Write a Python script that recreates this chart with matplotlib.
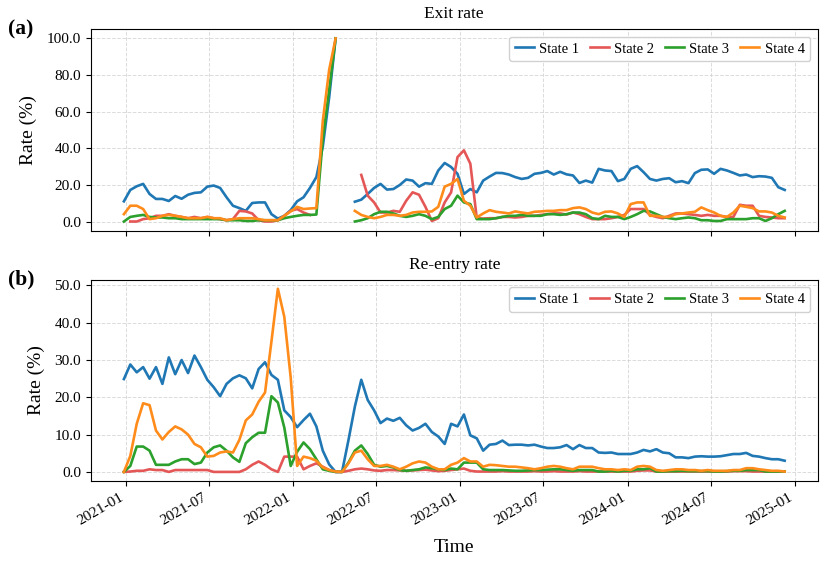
import numpy as np
import pandas as pd
import matplotlib
matplotlib.use("Agg")
import matplotlib.pyplot as plt
import matplotlib.dates as mdates
from matplotlib.ticker import FormatStrFormatter

nan = np.nan

# biweekly sample dates
dates = pd.date_range("2020-12-28", periods=104, freq="14D")

states = ["State 1", "State 2", "State 3", "State 4"]
colors = ["#1f77b4", "#e45756", "#2ca02c", "#ff8c1a"]

# exit rate (%)
exit_s1 = [11.2, 17.4, 19.4, 20.7, 15.2, 12.5, 12.5, 11.4, 14.1, 12.6, 14.8, 15.8, 16.1, 19.2, 19.8, 18.5,
           13.4, 8.8, 7.5, 6.0, 10.3, 10.6, 10.6, 4.2, 1.8, 3.3, 6.4, 11.2, 13.4, 18.5, 24.4, 41, 68, 100,
           nan, nan,
           11.0, 12.1, 15.2, 18.5, 20.7, 17.6, 17.9, 20.1, 23.1, 22.5, 19.2, 21.1, 20.7, 28.0, 32.1, 29.9,
           26.2, 15.2, 17.9, 16.1, 22.5, 24.7, 26.7, 26.6, 25.8, 24.4, 23.4, 24.0, 26.2, 26.7, 27.7, 25.8,
           27.3, 25.9, 25.3, 21.2, 22.5, 21.4, 28.9, 28.0, 27.7, 22.2, 23.4, 28.9, 30.4, 27.1, 23.4, 22.5,
           23.4, 23.8, 21.6, 22.2, 21.1, 26.6, 28.4, 28.6, 26.2, 28.9, 28.0, 26.7, 25.3, 25.8, 24.4, 24.9,
           24.7, 24.0, 18.9, 17.4]
exit_s2 = [nan, 0.2, 0.2, 1.5, 2.0, 3.3, 3.3, 4.2, 3.3, 2.7, 2.0, 2.7, 2.0, 2.7, 2.0, 1.5, 0.9, 1.5, 6.0,
           5.7, 4.6, 0.9, 0.2, 0.2, 0.9, 3.3, 6.0, 7.0, 5.1, 3.8,
           nan, nan, nan, nan, nan, nan, nan,
           25.6, 14.3, 10.6, 5.1, 5.1, 6.0, 5.5, 11.5, 16.1, 14.8, 8.2, 0.5, 2.0, 10.6, 16.1, 35.3, 39.0,
           31.7, 2.0, 1.8, 2.0, 2.0, 2.7, 2.7, 2.4, 2.7, 3.3, 3.3, 3.8, 4.2, 4.6, 4.6, 4.0, 5.1, 4.2, 2.7,
           1.5, 1.5, 1.5, 2.0, 2.7, 3.8, 7.0, 7.0, 7.0, 3.8, 2.7, 2.0, 3.3, 4.6, 4.6, 4.2, 3.8, 3.3, 3.8,
           3.3, 3.3, 2.7, 2.7, 9.3, 8.8, 8.8, 3.3, 2.7, 2.4, 2.0, 2.0]
exit_s3 = [0.2, 2.7, 3.3, 3.8, 2.7, 2.4, 2.4, 2.0, 2.0, 1.5, 1.5, 1.5, 1.5, 1.5, 1.5, 1.5, 0.9, 0.9, 0.9,
           0.5, 0.5, 0.9, 0.9, 0.9, 0.9, 2.0, 2.7, 3.3, 3.8, 3.8, 4.0, 45, 72, 100,
           nan, nan,
           0.2, 0.9, 2.0, 4.2, 5.5, 5.5, 4.6, 3.3, 2.7, 3.3, 4.2, 3.3, 1.5, 2.7, 7.0, 8.8, 14.3, 10.6, 9.7,
           1.5, 1.5, 1.5, 2.0, 2.7, 3.3, 3.3, 3.8, 3.3, 3.3, 3.3, 4.2, 4.2, 3.8, 4.2, 5.1, 5.1, 4.2, 2.0,
           1.5, 3.3, 2.7, 2.7, 1.5, 2.7, 4.2, 6.0, 5.7, 4.2, 2.7, 2.0, 1.5, 2.0, 2.4, 2.0, 0.9, 0.9, 0.5,
           0.5, 1.5, 1.5, 1.5, 1.5, 2.0, 2.0, 0.5, 2.0, 4.2, 6.0]
exit_s4 = [4.2, 8.8, 8.8, 7.0, 1.5, 2.0, 3.3, 3.8, 3.3, 2.7, 2.0, 2.0, 2.0, 2.7, 2.0, 2.0, 0.9, 1.5, 2.0,
           2.0, 2.0, 1.5, 0.9, 0.9, 0.9, 3.3, 5.7, 8.2, 7.0, 7.3, 7.5, 55, 83, 100,
           nan, nan,
           6.0, 3.8, 2.7, 2.0, 2.7, 3.8, 3.8, 3.3, 3.8, 5.1, 5.5, 5.5, 5.7, 8.2, 19.2, 20.7, 23.4, 11.5,
           8.8, 2.4, 4.6, 6.4, 5.5, 5.1, 4.6, 5.7, 5.1, 4.6, 5.5, 5.7, 6.0, 6.0, 6.4, 6.4, 7.5, 7.9, 7.0,
           5.1, 4.2, 5.5, 5.7, 4.6, 2.7, 9.7, 10.6, 10.6, 3.3, 3.3, 2.7, 2.7, 4.2, 4.6, 5.1, 5.5, 7.9, 6.4,
           5.1, 3.3, 2.7, 5.1, 8.8, 8.2, 7.5, 5.7, 5.7, 5.1, 3.3, 2.4]

# re-entry rate (%)
reentry_s1 = [24.9, 28.8, 26.7, 28.1, 25.0, 28.1, 23.6, 30.7, 26.2, 30.0, 26.5, 31.2, 28.1, 24.7, 22.7,
              20.3, 23.6, 25.1, 25.9, 25.1, 22.4, 27.6, 29.4, 26.0, 24.7, 16.5, 14.7, 12.0, 13.9, 15.6,
              12.2, 5.7, 2.0, 0.0, 0.0, 8.5, 17.5, 24.7, 19.3, 16.5, 13.1, 14.3, 13.7, 14.5, 12.5, 11.1,
              11.8, 12.9, 10.7, 9.5, 7.5, 12.9, 12.2, 15.4, 9.8, 9.0, 5.7, 7.3, 7.5, 8.4, 7.2, 7.3, 7.3,
              7.1, 7.3, 6.8, 6.4, 6.4, 6.6, 7.2, 6.1, 7.2, 6.4, 6.4, 5.2, 5.1, 5.2, 4.8, 4.8, 4.8, 5.2,
              5.9, 5.5, 6.1, 5.2, 5.0, 3.9, 3.9, 3.7, 4.1, 4.2, 4.1, 4.1, 4.2, 4.5, 4.8, 4.8, 5.1, 4.3,
              4.1, 3.7, 3.4, 3.4, 3.0]
reentry_s2 = [0.0, 0.1, 0.3, 0.3, 0.7, 0.5, 0.5, 0.0, 0.5, 0.5, 0.5, 0.5, 0.5, 0.5, 0.0, 0.0, 0.0, 0.0,
              0.0, 0.7, 1.9, 2.8, 1.9, 0.7, 0.0, 4.1, 4.1, 4.1, 0.7, 1.6, 2.3, 1.4, 0.5, 0.0, 0.0, 0.3,
              0.7, 0.9, 0.7, 0.4, 0.3, 0.5, 0.5, 0.4, 0.3, 0.4, 0.5, 0.6, 0.4, 0.2, 0.3, 0.5, 0.7, 0.9,
              0.3, 0.1, 0.1, 0.1, 0.1, 0.2, 0.1, 0.1, 0.1, 0.1, 0.2, 0.1, 0.1, 0.2, 0.1, 0.1, 0.1, 0.2,
              0.1, 0.1, 0.1, 0.1, 0.1, 0.1, 0.1, 0.1, 0.3, 0.4, 0.4, 0.1, 0.1, 0.1, 0.1, 0.1, 0.1, 0.1,
              0.1, 0.1, 0.1, 0.1, 0.1, 0.2, 0.2, 0.2, 0.1, 0.1, 0.1, 0.1, 0.1, 0.1]
reentry_s3 = [0.0, 1.6, 6.8, 6.8, 5.7, 1.9, 1.9, 1.9, 2.8, 3.4, 3.4, 2.1, 2.5, 5.2, 6.6, 7.1, 5.7, 3.9,
              2.7, 7.7, 9.3, 10.5, 10.5, 20.3, 18.6, 11.9, 1.6, 5.4, 7.9, 6.1, 3.4, 0.7, 0.3, 0.0, 0.0,
              2.5, 5.7, 7.1, 4.8, 1.9, 1.4, 1.6, 1.2, 0.5, 0.3, 0.5, 0.7, 1.2, 1.0, 0.7, 0.5, 0.9, 0.7,
              2.5, 2.5, 2.5, 0.7, 0.5, 0.5, 0.5, 0.4, 0.3, 0.3, 0.4, 0.5, 0.5, 0.6, 0.7, 0.7, 0.5, 0.3,
              0.5, 0.5, 0.5, 0.1, 0.1, 0.3, 0.1, 0.3, 0.3, 0.7, 0.7, 1.0, 0.1, 0.1, 0.2, 0.2, 0.3, 0.2,
              0.2, 0.2, 0.2, 0.1, 0.1, 0.2, 0.3, 0.3, 0.5, 0.5, 0.5, 0.1, 0.1, 0.1, 0.1]
reentry_s4 = [0.0, 4.3, 12.9, 18.4, 17.9, 11.1, 8.7, 10.7, 12.2, 11.4, 10.0, 7.5, 6.6, 4.1, 4.3, 5.2,
              5.5, 5.2, 8.6, 13.8, 15.4, 18.8, 21.3, 35.0, 49.1, 41.6, 25.3, 1.6, 4.1, 3.7, 3.0, 1.2,
              0.5, 0.1, 0.0, 2.3, 5.2, 5.7, 3.4, 1.6, 1.6, 1.9, 1.4, 0.7, 1.4, 2.3, 2.8, 2.5, 1.4, 0.7,
              0.7, 1.9, 2.5, 3.7, 2.8, 2.8, 1.4, 1.9, 1.8, 1.6, 1.4, 1.4, 1.2, 1.0, 0.7, 1.0, 1.4, 1.6,
              1.4, 1.0, 0.7, 1.4, 1.4, 1.4, 1.0, 0.7, 0.7, 0.5, 0.7, 0.5, 1.4, 1.6, 1.4, 0.5, 0.3, 0.5,
              0.7, 0.7, 0.5, 0.5, 0.3, 0.5, 0.3, 0.3, 0.3, 0.5, 0.5, 1.0, 1.0, 0.7, 0.5, 0.3, 0.3, 0.1]

plt.rcParams["font.family"] = "serif"
plt.rcParams["font.serif"] = ["Liberation Serif", "DejaVu Serif"]

fig, (ax1, ax2) = plt.subplots(2, 1, figsize=(8.26, 5.62), dpi=100, sharex=True)
fig.subplots_adjust(left=0.110, right=0.990, top=0.948, bottom=0.144, hspace=0.243)

panels = [
    (ax1, [exit_s1, exit_s2, exit_s3, exit_s4], "Exit rate", [0, 20, 40, 60, 80, 100]),
    (ax2, [reentry_s1, reentry_s2, reentry_s3, reentry_s4], "Re-entry rate", [0, 10, 20, 30, 40, 50]),
]

for ax, series, title, yt in panels:
    for vals, name, c in zip(series, states, colors):
        ax.plot(dates, vals, color=c, lw=1.9, label=name)
    ax.set_title(title, fontsize=12.5, pad=8)
    ax.set_ylabel("Rate (%)", fontsize=14, labelpad=7)
    ax.set_yticks(yt)
    ax.yaxis.set_major_formatter(FormatStrFormatter("%.1f"))
    ax.grid(True, ls="--", color="#cccccc", lw=0.7, alpha=0.7)
    ax.tick_params(labelsize=11)
    ax.legend(loc="upper right", ncol=4, fontsize=10.5, handlelength=1.3,
              columnspacing=0.7, handletextpad=0.4, borderpad=0.4, framealpha=0.9)

ax2.xaxis.set_major_locator(mdates.MonthLocator(bymonth=[1, 7]))
ax2.xaxis.set_major_formatter(mdates.DateFormatter("%Y-%m"))
for lab in ax2.get_xticklabels():
    lab.set_rotation(30)
    lab.set_ha("right")
ax2.set_xlabel("Time", fontsize=14, labelpad=8)

fig.text(0.010, 0.947, "(a)", fontsize=15.5, fontweight="bold", va="center")
fig.text(0.010, 0.502, "(b)", fontsize=15.5, fontweight="bold", va="center")

fig.savefig("out.png", dpi=100)
